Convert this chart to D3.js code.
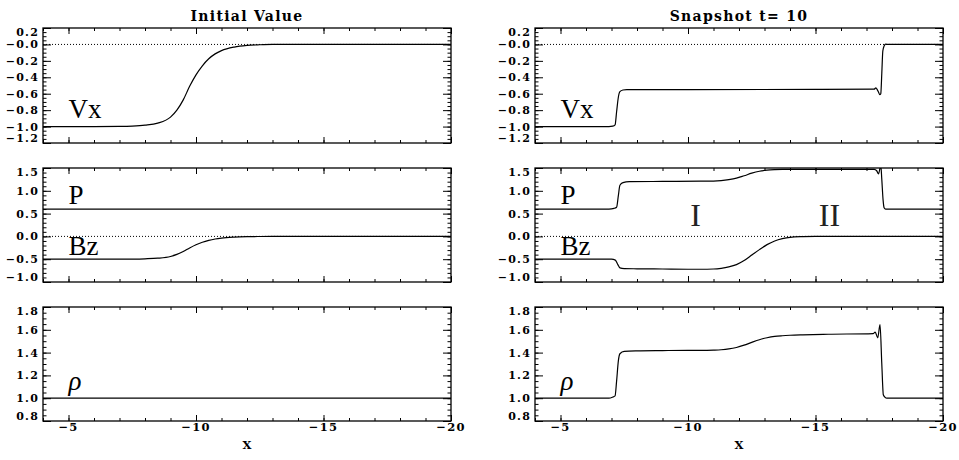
<!DOCTYPE html>
<html><head><meta charset="utf-8">
<script src="https://cdn.jsdelivr.net/npm/d3@7"></script>
<style>body{margin:0;background:#fff}svg{display:block}</style>
</head><body>
<svg id="c" width="959" height="460"></svg>
<script>
// ---------------- data ----------------
const titles = ["Initial Value", "Snapshot t= 10"];
const xDomain = [-4, -20];
const xTickValues = [-5, -10, -15, -20];
const xTickLabels = ["\u22125", "\u221210", "\u221215", "\u221220"];
const xLabel = "X";

// Vx panel
const vxDomain = [-1.2, 0.2];
const vxTicks = [0.2, 0.0, -0.2, -0.4, -0.6, -0.8, -1.0, -1.2];
const vxTickLabels = ["0.2", "\u22120.0", "\u22120.2", "\u22120.4", "\u22120.6", "\u22120.8", "\u22121.0", "\u22121.2"];
// P / Bz panel
const pbDomain = [-1.0, 1.5];
const pbTicks = [1.5, 1.0, 0.5, 0.0, -0.5, -1.0];
const pbTickLabels = ["1.5", "1.0", "0.5", "0.0", "\u22120.5", "\u22121.0"];
// rho panel
const rhoDomain = [0.8, 1.8];
const rhoTicks = [1.8, 1.6, 1.4, 1.2, 1.0, 0.8];
const rhoTickLabels = ["1.8", "1.6", "1.4", "1.2", "1.0", "0.8"];

// initial profiles
const xInit  = [-4, -6, -7, -7.5, -8, -8.5, -9, -9.25, -9.5, -9.75, -10, -10.25, -10.5, -10.75, -11, -11.5, -12, -12.5, -13, -20];
const vxInit = [-1, -1, -0.998, -0.994, -0.983, -0.958, -0.885, -0.80, -0.675, -0.51, -0.37, -0.26, -0.175, -0.115, -0.075, -0.032, -0.012, -0.004, 0, 0];
const bzInit = [-0.5, -0.5, -0.499, -0.497, -0.491, -0.478, -0.44, -0.395, -0.333, -0.253, -0.183, -0.128, -0.087, -0.057, -0.037, -0.016, -0.006, -0.002, 0, 0];
const xFlat  = [-4, -20];
const pInit  = [0.6, 0.6];
const rhoInit = [1.0, 1.0];

// snapshot t = 10
const xVxS = [-4, -6.9, -7.05, -7.14, -7.2, -7.27, -7.33, -7.45, -7.6, -10, -15, -17.3, -17.37, -17.42, -17.47, -17.52, -17.56, -17.6, -17.64, -17.69, -17.75, -17.85, -20];
const vxS  = [-1, -1, -0.995, -0.98, -0.82, -0.64, -0.575, -0.555, -0.55, -0.55, -0.548, -0.545, -0.528, -0.55, -0.58, -0.612, -0.6, -0.35, -0.08, -0.02, 0.003, 0, 0];

const xPS = [-4, -6.9, -7.1, -7.2, -7.27, -7.33, -7.45, -7.7, -9, -10.5, -11, -11.3, -11.6, -11.9, -12.2, -12.5, -12.8, -13.1, -13.4, -13.7, -14, -15, -17.3, -17.4, -17.47, -17.53, -17.56, -17.6, -17.65, -17.69, -17.75, -20];
const pS  = [0.6, 0.6, 0.615, 0.64, 0.9, 1.12, 1.18, 1.2, 1.205, 1.21, 1.214, 1.225, 1.246, 1.278, 1.33, 1.386, 1.428, 1.452, 1.463, 1.468, 1.47, 1.472, 1.472, 1.44, 1.37, 1.5, 1.56, 1.25, 0.8, 0.63, 0.6, 0.6];

const xBzS = [-4, -7.0, -7.15, -7.25, -7.33, -7.5, -8, -9, -10, -10.5, -11, -11.3, -11.6, -11.9, -12.2, -12.5, -12.8, -13.1, -13.4, -13.7, -14, -14.5, -15, -20];
const bzS  = [-0.5, -0.5, -0.52, -0.62, -0.69, -0.705, -0.71, -0.715, -0.72, -0.72, -0.715, -0.70, -0.67, -0.62, -0.53, -0.41, -0.29, -0.18, -0.10, -0.05, -0.02, -0.005, 0, 0];

const xRhoS = [-4, -6.9, -7.05, -7.14, -7.2, -7.27, -7.33, -7.5, -8, -9, -10, -10.5, -11, -11.3, -11.6, -11.9, -12.2, -12.5, -12.8, -13.1, -13.4, -13.7, -14, -14.5, -15.5, -17.26, -17.34, -17.44, -17.53, -17.6, -17.66, -17.72, -17.8, -20];
const rhoS  = [1.0, 1.0, 1.01, 1.02, 1.15, 1.33, 1.39, 1.41, 1.415, 1.418, 1.42, 1.42, 1.422, 1.425, 1.432, 1.445, 1.465, 1.49, 1.513, 1.53, 1.542, 1.548, 1.552, 1.556, 1.561, 1.567, 1.58, 1.53, 1.645, 1.3, 1.03, 1.01, 1.0, 1.0];

// annotation texts (anchored in data units)
const panelNames = ["Vx", "P", "Bz", "\u03c1"];
const regionNames = ["I", "II"];

// ---------------- layout ----------------
const colX = [[43, 451], [535, 943]];
const rowY = [[28, 143], [168, 282], [307, 421]];

const rows = [
  {domain: vxDomain, ticks: vxTicks, labels: vxTickLabels, minor: 0.05, zero: true},
  {domain: pbDomain, ticks: pbTicks, labels: pbTickLabels, minor: 0.1, zero: true},
  {domain: rhoDomain, ticks: rhoTicks, labels: rhoTickLabels, minor: 0.05, zero: false}
];
const seriesByCol = [
  [[[xInit, vxInit]], [[xFlat, pInit], [xInit, bzInit]], [[xFlat, rhoInit]]],
  [[[xVxS, vxS]], [[xPS, pS], [xBzS, bzS]], [[xRhoS, rhoS]]]
];
// label anchors: [row, text, xData, yData]
const nameAnchors = [[0, panelNames[0], -5, -0.9], [1, panelNames[1], -5, 0.71], [1, panelNames[2], -5, -0.4], [2, panelNames[3], -5, 1.07]];
const regionAnchors = [[regionNames[0], -10.3, 0.22], [regionNames[1], -15.55, 0.22]];

const tickFont = "'DejaVu Serif', serif";
const svg = d3.select("#c");
const defs = svg.append("defs");

colX.forEach((cx, ci) => {
  const x = d3.scaleLinear().domain(xDomain).range(cx);
  const xMinor = d3.range(-4, -20.5, -1);

  svg.append("text").attr("x", (cx[0] + cx[1]) / 2).attr("y", 21)
    .attr("text-anchor", "middle").attr("font-family", tickFont).attr("font-weight", "bold")
    .attr("font-size", 14).attr("letter-spacing", 1.3).text(titles[ci]);

  rows.forEach((row, ri) => {
    const [y0, y1] = rowY[ri];
    const y = d3.scaleLinear().domain(row.domain).range([y1, y0]);
    const g = svg.append("g");
    const id = `clip${ci}${ri}`;
    defs.append("clipPath").attr("id", id).append("rect")
      .attr("x", cx[0]).attr("y", y0).attr("width", cx[1] - cx[0]).attr("height", y1 - y0);
    const plot = g.append("g").attr("clip-path", `url(#${id})`);

    if (row.zero) {
      plot.append("line").attr("x1", cx[0]).attr("x2", cx[1]).attr("y1", y(0)).attr("y2", y(0))
        .attr("stroke", "#000").attr("stroke-width", 1).attr("stroke-dasharray", "1,2");
    }
    const line = d3.line().x(d => x(d[0])).y(d => y(d[1])).curve(d3.curveMonotoneX);
    seriesByCol[ci][ri].forEach(([xs, ys]) => {
      plot.append("path").datum(xs.map((v, i) => [v, ys[i]]))
        .attr("d", line).attr("fill", "none").attr("stroke", "#000").attr("stroke-width", 1.2);
    });

    // minor ticks
    const [dmin, dmax] = row.domain;
    const yMinor = d3.range(Math.round(dmin / row.minor), Math.round(dmax / row.minor) + 1).map(k => k * row.minor);
    const strip = s => s.call(a => a.select(".domain").remove());
    g.append("g").attr("transform", `translate(${cx[0]},0)`).call(d3.axisLeft(y).tickValues(yMinor).tickSize(-3.5).tickFormat("")).call(strip);
    g.append("g").attr("transform", `translate(${cx[1]},0)`).call(d3.axisRight(y).tickValues(yMinor).tickSize(-3.5).tickFormat("")).call(strip);
    g.append("g").attr("transform", `translate(${cx[0]},0)`).call(d3.axisLeft(y).tickValues(row.ticks).tickSize(-8).tickFormat("")).call(strip);
    g.append("g").attr("transform", `translate(${cx[1]},0)`).call(d3.axisRight(y).tickValues(row.ticks).tickSize(-8).tickFormat("")).call(strip);
    g.append("g").attr("transform", `translate(0,${y1})`).call(d3.axisBottom(x).tickValues(xMinor).tickSize(-3).tickFormat("")).call(strip);
    g.append("g").attr("transform", `translate(0,${y0})`).call(d3.axisTop(x).tickValues(xMinor).tickSize(-3).tickFormat("")).call(strip);
    g.append("g").attr("transform", `translate(0,${y1})`).call(d3.axisBottom(x).tickValues(xTickValues).tickSize(-6).tickFormat("")).call(strip);
    g.append("g").attr("transform", `translate(0,${y0})`).call(d3.axisTop(x).tickValues(xTickValues).tickSize(-6).tickFormat("")).call(strip);

    g.append("rect").attr("x", cx[0]).attr("y", y0).attr("width", cx[1] - cx[0]).attr("height", y1 - y0)
      .attr("fill", "none").attr("stroke", "#000").attr("stroke-width", 1.3);

    // y tick labels (kept inside the frame's height like the original)
    row.ticks.forEach((t, i) => {
      const yy = Math.min(Math.max(y(t), y0 + 4.5), y1 - 4.5);
      g.append("text").attr("x", cx[0] - 4).attr("y", yy).attr("dy", "0.36em")
        .attr("text-anchor", "end").attr("font-family", tickFont).attr("font-weight", "bold")
        .attr("font-size", 11).attr("letter-spacing", 1.2).text(row.labels[i]);
    });

    nameAnchors.filter(a => a[0] === ri).forEach(a => {
      g.append("text").attr("x", x(a[2])).attr("y", y(a[3]))
        .attr("font-family", "'Liberation Serif', serif").attr("font-size", 27)
        .attr("font-style", a[1] === "\u03c1" ? "italic" : "normal").text(a[1]);
    });
    if (ci === 1 && ri === 1) {
      regionAnchors.forEach(a => {
        g.append("text").attr("x", x(a[1])).attr("y", y(a[2])).attr("text-anchor", "middle")
          .attr("font-family", "'Liberation Serif', serif").attr("font-size", 32).attr("fill", "#222").text(a[0]);
      });
    }
  });

  // x tick labels + axis title
  xTickValues.forEach((t, i) => {
    svg.append("text").attr("x", x(t)).attr("y", 431).attr("text-anchor", "middle")
      .attr("font-family", tickFont).attr("font-weight", "bold").attr("font-size", 11.5)
      .attr("letter-spacing", 1.3).text(xTickLabels[i]);
  });
  svg.append("text").attr("x", (cx[0] + cx[1]) / 2).attr("y", 449).attr("text-anchor", "middle")
    .attr("font-family", tickFont).attr("font-weight", "bold").attr("font-size", 11.5).text(xLabel);
});
</script>
</body></html>
